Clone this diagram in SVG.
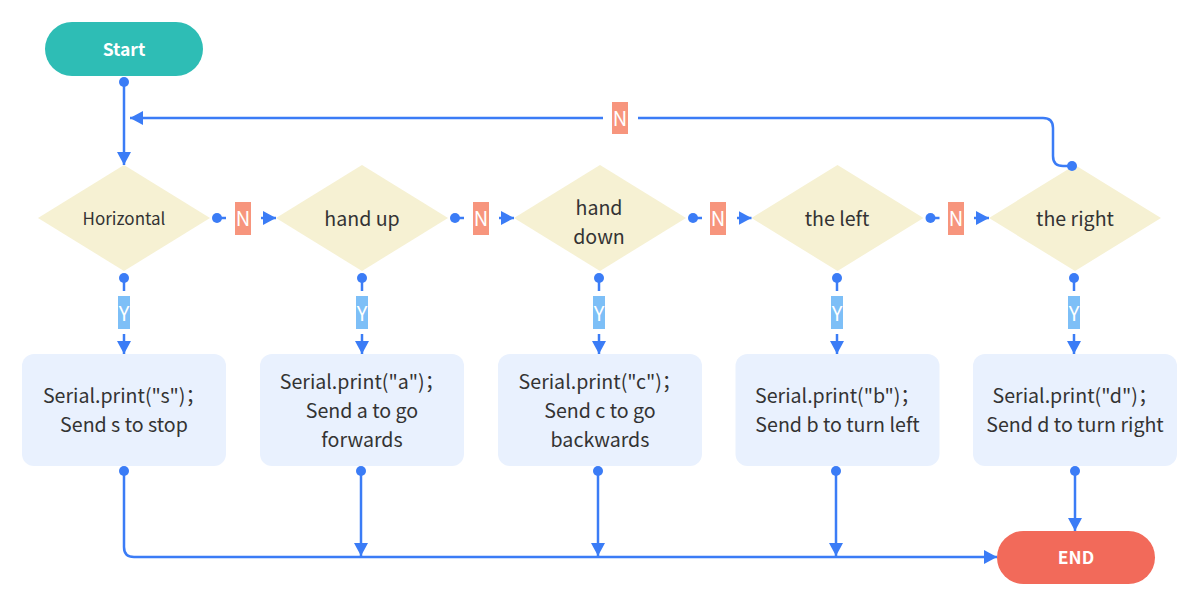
<svg xmlns="http://www.w3.org/2000/svg" width="1200" height="607" viewBox="0 0 1200 607">
<style>
.t{font-family:"Noto Sans CJK SC","Noto Sans",sans-serif;fill:#333333;dominant-baseline:central;text-anchor:middle;font-size:19.6px}
.tb{font-family:"Noto Sans CJK SC","Noto Sans",sans-serif;fill:#ffffff;font-weight:bold;dominant-baseline:central;text-anchor:middle;font-size:17.5px}
.lt{font-family:"Noto Sans CJK SC","Noto Sans",sans-serif;fill:#ffffff;dominant-baseline:central;text-anchor:middle;font-size:20px}
.dia{fill:#F6F1D3}
.box{fill:#E9F1FE}
.c{fill:none;stroke:#3B7CF6;stroke-width:2.5}
.dot{fill:#3B7CF6}
.nl{fill:#F7957D}
.yl{fill:#7DBFF7}
</style>
<defs>
<marker id="ah" markerUnits="userSpaceOnUse" markerWidth="14" markerHeight="14" refX="13" refY="7" orient="auto">
<path d="M0,0 L13,7 L0,14 z" fill="#3B7CF6"/>
</marker>
</defs>
<rect width="1200" height="607" fill="#ffffff"/>

<g id="start">
<rect x="45" y="22" width="158" height="54" rx="27" fill="#2EBDB5"/>
<text class="tb" x="124" y="48.5">Start</text>
</g>
<g id="end">
<rect x="997" y="531" width="158" height="53" rx="26.5" fill="#F26A5A"/>
<text class="tb" x="1076" y="556.5">END</text>
</g>

<g id="d1"><polygon class="dia" points="38,218 124,165 210,218 124,271"/><text class="t" x="124" y="217" style="font-size:17px">Horizontal</text></g>
<g id="d2"><polygon class="dia" points="276,218 362,165 448,218 362,271"/><text class="t" x="362" y="217">hand up</text></g>
<g id="d3"><polygon class="dia" points="514,218 600,165 686,218 600,271"/><text class="t" x="599" y="206">hand</text><text class="t" x="599" y="235">down</text></g>
<g id="d4"><polygon class="dia" points="751.5,218 837.5,165 923.5,218 837.5,271"/><text class="t" x="837" y="217">the left</text></g>
<g id="d5"><polygon class="dia" points="989,218 1075,165 1161,218 1075,271"/><text class="t" x="1075" y="217">the right</text></g>

<g id="b1"><rect class="box" x="22" y="354" width="204" height="112" rx="12"/><text class="t" x="124" y="394">Serial.print("s")；</text><text class="t" x="124" y="423">Send s to stop</text></g>
<g id="b2"><rect class="box" x="260" y="354" width="204" height="112" rx="12"/><text class="t" x="362" y="380">Serial.print("a")；</text><text class="t" x="362" y="409">Send a to go</text><text class="t" x="362" y="438">forwards</text></g>
<g id="b3"><rect class="box" x="498" y="354" width="204" height="112" rx="12"/><text class="t" x="600" y="380">Serial.print("c")；</text><text class="t" x="600" y="409">Send c to go</text><text class="t" x="600" y="438">backwards</text></g>
<g id="b4"><rect class="box" x="735.5" y="354" width="204" height="112" rx="12"/><text class="t" x="837.5" y="394">Serial.print("b")；</text><text class="t" x="837.5" y="423">Send b to turn left</text></g>
<g id="b5"><rect class="box" x="973" y="354" width="204" height="112" rx="12"/><text class="t" x="1075" y="394">Serial.print("d")；</text><text class="t" x="1075" y="423">Send d to turn right</text></g>

<g id="connectors">
<circle class="dot" cx="124" cy="82" r="5"/>
<path class="c" d="M124,82 L124,165" marker-end="url(#ah)"/>

<circle class="dot" cx="1072" cy="166" r="5"/>
<path class="c" d="M1072,166 L1063,166 Q1053,166 1053,156 L1053,128 Q1053,118 1043,118 L638,118"/>
<path class="c" d="M603,118 L130,118" marker-end="url(#ah)"/>
<rect class="nl" x="612" y="102" width="16" height="32"/><text class="lt" x="620" y="117">N</text>

<circle class="dot" cx="217" cy="218" r="5"/><path class="c" d="M217,218 L226,218"/><path class="c" d="M261,218 L276,218" marker-end="url(#ah)"/>
<rect class="nl" x="235" y="202" width="16" height="33"/><text class="lt" x="243" y="217">N</text>
<circle class="dot" cx="455" cy="218" r="5"/><path class="c" d="M455,218 L464,218"/><path class="c" d="M499,218 L514,218" marker-end="url(#ah)"/>
<rect class="nl" x="473" y="202" width="16" height="33"/><text class="lt" x="481" y="217">N</text>
<circle class="dot" cx="693" cy="218" r="5"/><path class="c" d="M693,218 L702,218"/><path class="c" d="M737,218 L751.5,218" marker-end="url(#ah)"/>
<rect class="nl" x="710" y="202" width="16" height="33"/><text class="lt" x="718" y="217">N</text>
<circle class="dot" cx="930.5" cy="218" r="5"/><path class="c" d="M930.5,218 L939.5,218"/><path class="c" d="M974,218 L989,218" marker-end="url(#ah)"/>
<rect class="nl" x="948" y="202" width="16" height="33"/><text class="lt" x="956" y="217">N</text>

<circle class="dot" cx="124" cy="278" r="5"/><path class="c" d="M124,278 L124,291"/><path class="c" d="M124,334 L124,354" marker-end="url(#ah)"/>
<rect class="yl" x="118" y="296" width="12" height="33"/><text class="lt" x="124" y="312">Y</text>
<circle class="dot" cx="362" cy="278" r="5"/><path class="c" d="M362,278 L362,291"/><path class="c" d="M362,334 L362,354" marker-end="url(#ah)"/>
<rect class="yl" x="356" y="296" width="12" height="33"/><text class="lt" x="362" y="312">Y</text>
<circle class="dot" cx="599" cy="278" r="5"/><path class="c" d="M599,278 L599,291"/><path class="c" d="M599,334 L599,354" marker-end="url(#ah)"/>
<rect class="yl" x="593" y="296" width="12" height="33"/><text class="lt" x="599" y="312">Y</text>
<circle class="dot" cx="837" cy="278" r="5"/><path class="c" d="M837,278 L837,291"/><path class="c" d="M837,334 L837,354" marker-end="url(#ah)"/>
<rect class="yl" x="831" y="296" width="12" height="33"/><text class="lt" x="837" y="312">Y</text>
<circle class="dot" cx="1074" cy="278" r="5"/><path class="c" d="M1074,278 L1074,291"/><path class="c" d="M1074,334 L1074,354" marker-end="url(#ah)"/>
<rect class="yl" x="1068" y="296" width="12" height="33"/><text class="lt" x="1074" y="312">Y</text>

<circle class="dot" cx="124" cy="471" r="5"/>
<path class="c" d="M124,471 L124,547 Q124,557 134,557 L997,557" marker-end="url(#ah)"/>
<circle class="dot" cx="361" cy="471" r="5"/><path class="c" d="M361,471 L361,556" marker-end="url(#ah)"/>
<circle class="dot" cx="598" cy="471" r="5"/><path class="c" d="M598,471 L598,556" marker-end="url(#ah)"/>
<circle class="dot" cx="836" cy="471" r="5"/><path class="c" d="M836,471 L836,556" marker-end="url(#ah)"/>
<circle class="dot" cx="1075" cy="471" r="5"/><path class="c" d="M1075,471 L1075,531" marker-end="url(#ah)"/>
</g>
</svg>
